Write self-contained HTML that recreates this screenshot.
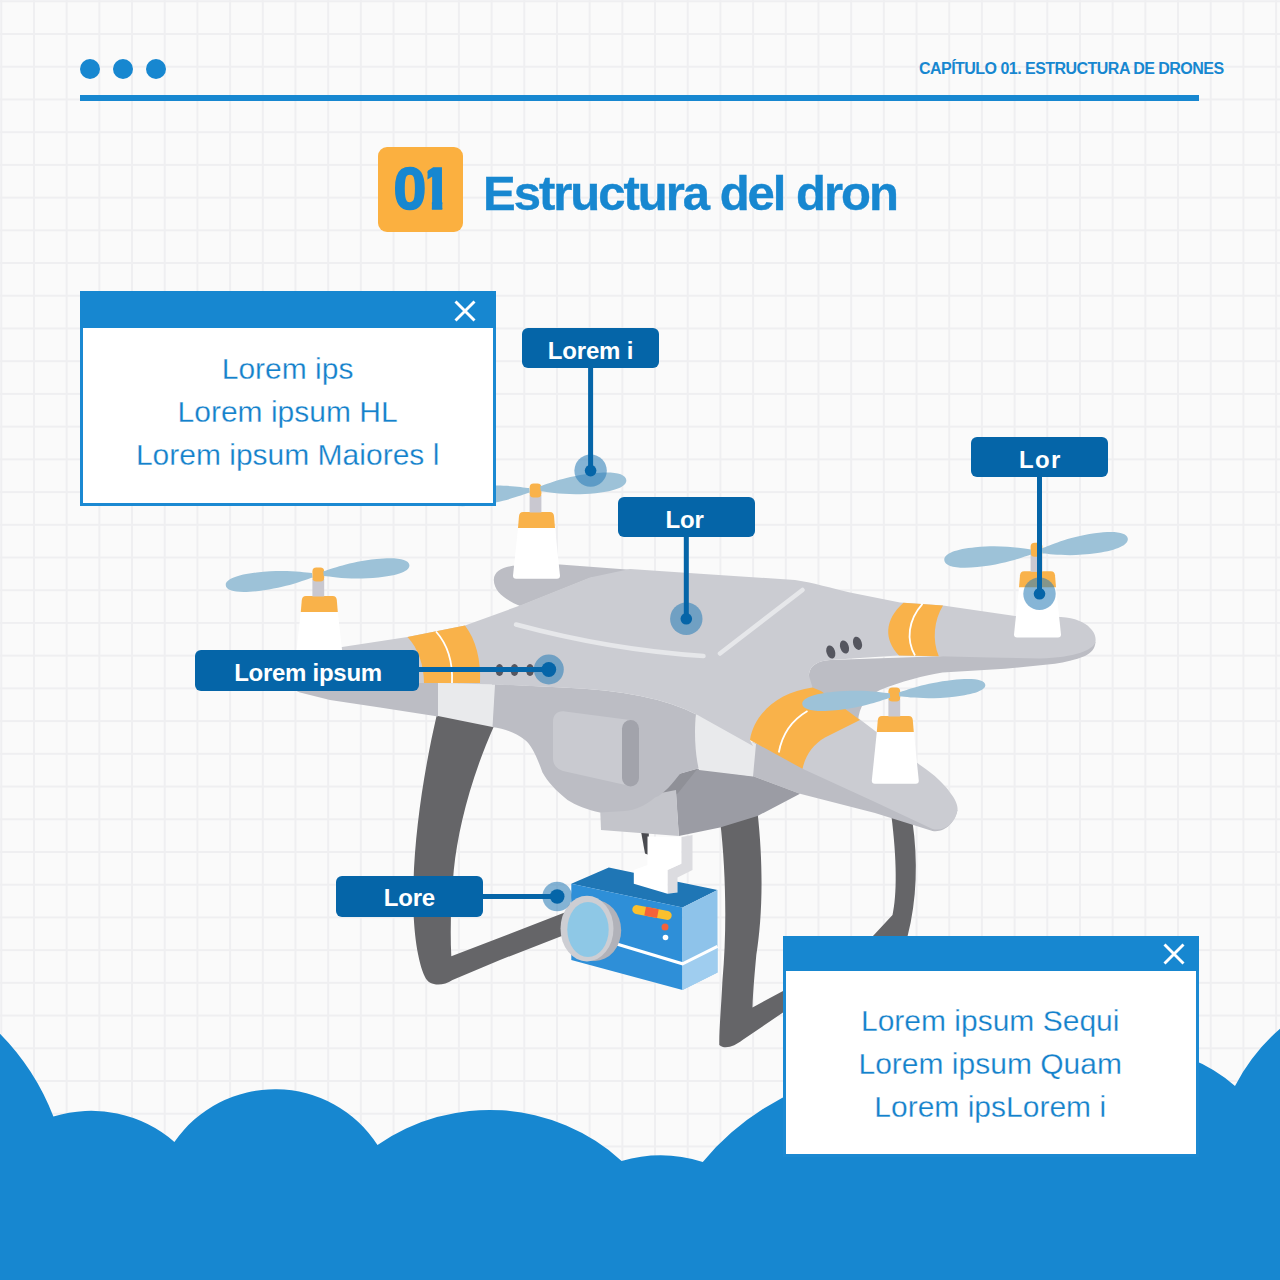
<!DOCTYPE html>
<html lang="es"><head><meta charset="utf-8"><title>Estructura del dron</title>
<style>
html,body{margin:0;padding:0}
body{width:1280px;height:1280px;overflow:hidden;position:relative;background-color:#fafafa;
 background-image:linear-gradient(to right,#efeff1 0,#efeff1 1.8px,transparent 1.8px),linear-gradient(to bottom,#efeff1 0,#efeff1 1.8px,transparent 1.8px);
 background-size:32.7px 32.73px;background-position:0.3px 0.3px;
 font-family:"Liberation Sans",sans-serif}
.abs{position:absolute}
.dots span{position:absolute;top:58.75px;width:20px;height:20px;border-radius:50%;background:#1787d0}
.rule{left:80px;top:95px;width:1118.5px;height:5.5px;background:#1787d0}
.chap{right:56.4px;top:59.5px;font-weight:bold;font-size:16px;color:#1787d0;white-space:nowrap;letter-spacing:-0.53px}
.num{left:378px;top:147px;width:85px;height:85px;border-radius:9px;background:#fbb040;color:#1787d0;font-weight:bold;font-size:59px;line-height:85px;text-align:center;letter-spacing:-3px;text-indent:-5px;-webkit-text-stroke:1.7px #1787d0}
.num span{position:absolute;top:0.4px;display:block;letter-spacing:0;text-indent:0}
.num .d1{clip-path:polygon(8.3px 0,23.6px 0,23.6px 54px,23px 54px,23px 100%,12.6px 100%,12.6px 54px,8.3px 54px)}
.title{left:483px;top:163px;font-weight:bold;font-size:49px;line-height:60px;color:#1787d0;white-space:nowrap;letter-spacing:-2px;-webkit-text-stroke:0.4px #1787d0}
.win{box-sizing:border-box;width:416px;border:3px solid #1b89d2;border-top:none;background:#fff;color:#1481cb;font-size:30px;line-height:43px;text-align:center;-webkit-text-stroke:0.28px #fff}
.win .bar{height:36.7px;background:#1787d0;margin:0 -3px;position:relative}
.win .bar svg{position:absolute;right:20.5px;top:8.6px}
.tag{height:39.8px;border-radius:6px;background:#0565a8;color:#fff;font-weight:bold;font-size:24px;line-height:45px;letter-spacing:-0.2px;text-align:center;white-space:nowrap}
</style></head>
<body>
<svg class="abs" style="left:0;top:0" width="1280" height="1280" viewBox="0 0 1280 1280">
<path d="M0,1033.75 A241.3,241.3 0 0 1 53.4,1116.6 A127,127 0 0 1 174.4,1141.9 A122.2,122.2 0 0 1 377.5,1145 A196.5,196.5 0 0 1 621.6,1160.9 A138.3,138.3 0 0 1 702.8,1161.9 A258.5,258.5 0 0 1 1000,1088 L1040,1085 A148,148 0 0 1 1235,1086 A194.8,194.8 0 0 1 1280,1028.75 L1280,1280 L0,1280 Z" fill="#1787d0"/>
<path d="M891.3,815 C897,860 897,895 892.5,915 L872.5,936.5 L907.5,936.5 C917,900 918,860 912.5,822 Z" fill="#656568"/>
<path d="M437,714 C424,770 415,830 413.5,882 C412,925 417,960 425,977 C429,986 442,987 452.5,980 L500,960 L572,932 L566,912 L451.3,956.3 C450,930 451,900 453.8,870 C458,830 470,780 494,726 Z" fill="#656568"/>
<path d="M720,820 C726,870 727,930 722.5,980 C721,1010 719,1030 719.3,1045 C725,1050 735,1046 742.5,1040 L783,1012.5 L783,991 L752.5,1007.5 C753,990 755,970 756.3,955 C762,920 764,870 757.5,812 Z" fill="#656568"/>
<path d="M493.8,580 C494,570 505,566 517.5,565.6 L560,564.4 L640,570.6 L590,578 L520,606 C506,600 494,592 493.8,580 Z" fill="#bcbdc4"/>
<path d="M808.8,675 C810,665 818,661 830,660 L938.8,656.3 L1005,652.5 L1055,647.5 L1095.5,642 C1095,649 1091,653 1085,656 C1075,660 1065,662 1055,663.8 L1005,668.8 L942.5,672.5 C925,675 900,682 880,690 C866,697 859,706 858,722 L812,690 C809,685 808,680 808.8,675 Z" fill="#bcbdc4"/>
<path d="M752.5,742 L752.5,776 L800,793.8 L875,813 L932.5,831 C945,833 955,822 957.5,810 L802.5,762 Z" fill="#bcbdc4"/>
<path d="M697.5,768.8 L752.5,776 L800,793.8 L757.5,816 L720,827.5 L678.8,836 L676,793.8 L660,792.5 L680,773.8 Z" fill="#9b9ca4"/>
<path d="M697.5,768.8 L680,773.8 L660,792.5 L677.5,793.8 Z" fill="#8f9097"/>
<path d="M600,805 L601,830 L678.8,836 L676,790 Z" fill="#c4c5cb"/>
<path d="M290,672 C290,684 293,690 300,692.5 L330,700 L380,707.5 L438,716.5 L438,670 Z" fill="#bcbdc4"/>
<path d="M492,684 L562.5,687.5 Q652,691 697.5,715 L700,768 L680,773.8 C668,790 660,796 655,797.5 C645,806 635,810 625,811 L600,812.5 C588,810 575,805 567.5,800 C555,790 548,782 542.5,772.5 C538,760 532,745 525,740 C515,732 505,729 492,727 Z" fill="#bcbdc4"/>
<path d="M565,711.5 L630,720 L630,786 L563,771 C557,769 553,765 553,758 L553,722 C553,714 558,710.5 565,711.5 Z" fill="#c9cad0"/>
<rect x="622" y="720" width="17" height="66.5" rx="8.5" fill="#a2a3ab"/>
<path d="M438,683 L495,684.5 L492.5,727 L438,716 Z" fill="#e9eaec"/>
<path d="M696,714 L756,744 L753,776.5 L699,770 C695,755 694,730 696,714 Z" fill="#e9eaec"/>
<path d="M300,662 L342,647 L407.5,637 L465,625.5 L520,605.5 L590,577.5 L630,569 L700,573.8 L795,580 C815,583 830,588 850,592.5 L900,602.5 L943,605.5 L1015,616 L1061,617 C1075,618 1085,622 1090,628 C1095,633 1096,637 1095.5,642 C1093,650 1075,657.5 1040,658.5 L990,657.5 L938.8,656.3 L897.5,655.5 L830,660 C818,661 810,665 808.8,675 L812.5,687.5 L750,740 L753,746 L697.5,715 Q652,691 562.5,687.5 L495,684.5 L438,683 L300,683 Z" fill="#cbccd2"/>
<path d="M858,718 L920,765 C935,775 945,785 950,792.5 C956,800 958,806 957.5,810 C956,822 945,832 932.5,829 L875,802 L802.5,768.8 L800,755 L820,735 Z" fill="#cbccd2"/>
<path d="M407.5,637 L465,625.5 C476,640 481,660 480,683 L424,683 C424,665 418,648 407.5,637 Z" fill="#f9b24a"/>
<path d="M436,631.5 C448,645 453,662 452,683" fill="none" stroke="#fff" stroke-width="1.8"/>
<path d="M903.5,602.8 L943,605.5 C934,620 932,640 938.8,656.3 L899,655.5 C884,640 884,620 903.5,602.8 Z" fill="#f9b24a"/>
<path d="M922.5,603.8 C908,620 906,640 915,655.5" fill="none" stroke="#fff" stroke-width="1.8"/>
<path d="M750,740 C754,714 778,692 812.5,687.5 L821,691 L860,720 L825,737.5 C812,745 805,757 802.5,768.8 Z" fill="#f9b24a"/>
<path d="M778.8,752.5 C782,735 792,720 807.5,711" fill="none" stroke="#fff" stroke-width="1.8"/>
<path d="M516,624.5 Q611,650 703.5,656" fill="none" stroke="#e6e7ea" stroke-width="4.5" stroke-linecap="round"/>
<path d="M720,653.5 L802.5,590" stroke="#e6e7ea" stroke-width="4.5" stroke-linecap="round"/>
<ellipse cx="830.8" cy="652" rx="4.3" ry="6.8" transform="rotate(-18 830.8 652)" fill="#55565f"/>
<ellipse cx="844.5" cy="647" rx="4.3" ry="6.8" transform="rotate(-18 844.5 647)" fill="#55565f"/>
<ellipse cx="857.5" cy="643.3" rx="4.3" ry="6.8" transform="rotate(-18 857.5 643.3)" fill="#55565f"/>
<ellipse cx="499.5" cy="670" rx="4" ry="6" fill="#55565f"/>
<ellipse cx="514.5" cy="670" rx="4" ry="6" fill="#55565f"/>
<ellipse cx="530" cy="670" rx="4" ry="6" fill="#55565f"/>
<path d="M641.3,833 L648.8,833.5 L648.8,855 L645,853.5 Z" fill="#4a4b50"/>
<path d="M681.3,837 L692.5,835 L692.5,870 L677.5,877.5 L677.5,892.5 L667.5,893.8 L667.5,870 L681.3,863.8 Z" fill="#dcdce0"/>
<path d="M647.5,836.5 L681.3,837 L681.3,863.8 L667.5,870 L667.5,893.8 L633.8,883.8 L633.8,870 L647.5,865 Z" fill="#fff"/>
<path d="M571.3,883.8 L608.8,867.5 L633.8,872.7 L633.8,883.8 L667.5,893.8 L677.5,892.5 L677.5,881.7 L717.5,890 L682.5,907.5 Z" fill="#1f76b5"/>
<path d="M571.3,883.8 L682.5,907.5 L682.5,990 L571.3,960 Z" fill="#2e8fd8"/>
<path d="M682.5,907.5 L717.5,890 L717.5,972.5 L682.5,990 Z" fill="#8ec3ea"/>
<path d="M682.5,965.3 L717.5,947.8 L717.5,972.5 L682.5,990 Z" fill="#9fcdef"/>
<path d="M615,943.5 L682.5,963.8 L717.5,946.3" fill="none" stroke="#fff" stroke-width="3"/>
<g transform="rotate(11 652 912.5)"><rect x="632" y="908" width="40" height="9" rx="4.5" fill="#fbc02d"/><rect x="645" y="908" width="13" height="9" fill="#f4623a"/></g>
<circle cx="665" cy="927" r="3.5" fill="#f4623a"/><circle cx="665.5" cy="937.5" r="2.8" fill="#fff"/>
<ellipse cx="594.7" cy="930.4" rx="26.5" ry="30.5" fill="#b1b2b9"/>
<ellipse cx="587" cy="928.6" rx="26.5" ry="32.8" fill="#cdced3"/>
<ellipse cx="588" cy="929.5" rx="20.7" ry="27.5" fill="#8ec8e6"/>
<path d="M518.0,528.0 L555.0,528.0 L560.0,575.8 Q560.0,578.8 557.0,578.8 L516.0,578.8 Q513.0,578.8 513.0,575.8 Z" fill="#fff"/><path d="M518.0,528.0 L519.0,516.0 Q519.5,512.0 523.0,512.0 L550.0,512.0 Q553.5,512.0 554.0,516.0 L555.0,528.0 Z" fill="#f9b24a"/><rect x="529.6" y="495.0" width="11.8" height="17.5" fill="#c9c8d0"/><rect x="529.6" y="483.5" width="11.8" height="14" rx="4" fill="#f9b24a"/>
<path d="M540.8,491.3 C549.5,492.1 567.3,496.1 595.6,493.2 C615.3,491.2 627.0,486.5 626.3,480.0 C625.6,473.5 613.3,471.3 593.5,473.3 C565.2,476.2 548.7,483.7 540.2,486.3 Z" fill="#9dc2d8" opacity="1"/>
<path d="M529.3,488.0 C520.5,487.3 502.9,483.8 474.6,486.8 C455.0,489.0 443.4,493.5 444.0,499.5 C444.6,505.5 457.0,507.5 476.6,505.3 C504.8,502.3 521.4,495.1 529.7,492.6 Z" fill="#9dc2d8" opacity="1"/>
<path d="M300.8,612.0 L337.8,612.0 L342.8,657.0 Q342.8,660.0 339.8,660.0 L298.8,660.0 Q295.8,660.0 295.8,657.0 Z" fill="#fff"/><path d="M300.8,612.0 L301.8,600.0 Q302.3,596.0 305.8,596.0 L332.8,596.0 Q336.3,596.0 336.8,600.0 L337.8,612.0 Z" fill="#f9b24a"/><rect x="312.4" y="579.0" width="11.8" height="17.5" fill="#c9c8d0"/><rect x="312.4" y="567.5" width="11.8" height="14" rx="4" fill="#f9b24a"/>
<path d="M323.7,575.9 C332.5,576.6 350.2,580.3 378.5,577.4 C398.3,575.5 410.0,571.0 409.4,565.0 C408.8,559.0 396.4,557.0 376.7,558.9 C348.3,561.8 331.7,568.9 323.3,571.3 Z" fill="#9dc2d8" opacity="1"/>
<path d="M311.9,572.9 C303.1,572.4 285.2,569.1 256.7,572.5 C236.8,574.8 225.1,579.5 225.8,585.5 C226.5,591.5 239.0,593.3 258.9,590.9 C287.4,587.5 304.0,580.1 312.5,577.5 Z" fill="#9dc2d8" opacity="1"/>
<path d="M1019.0,587.3 L1056.0,587.3 L1061.0,634.5 Q1061.0,637.5 1058.0,637.5 L1017.0,637.5 Q1014.0,637.5 1014.0,634.5 Z" fill="#fff"/><path d="M1019.0,587.3 L1020.0,575.3 Q1020.5,571.3 1024.0,571.3 L1051.0,571.3 Q1054.5,571.3 1055.0,575.3 L1056.0,587.3 Z" fill="#f9b24a"/><rect x="1030.6" y="554.3" width="11.8" height="17.5" fill="#c9c8d0"/><rect x="1030.6" y="542.8" width="11.8" height="14" rx="4" fill="#f9b24a"/>
<path d="M1042.4,553.5 C1051.2,553.9 1069.2,557.2 1097.5,553.1 C1117.2,550.2 1128.7,545.0 1127.8,538.6 C1126.9,532.2 1114.4,530.4 1094.6,533.3 C1066.3,537.4 1050.0,545.6 1041.6,548.5 Z" fill="#9dc2d8" opacity="1"/>
<path d="M1030.8,549.5 C1021.9,548.6 1004.0,544.5 975.4,547.2 C955.5,549.1 943.7,553.7 944.3,560.2 C944.9,566.7 957.4,569.0 977.3,567.1 C1005.9,564.4 1022.7,557.0 1031.2,554.5 Z" fill="#9dc2d8" opacity="1"/>
<path d="M876.8,732.0 L913.8,732.0 L918.8,780.8 Q918.8,783.8 915.8,783.8 L874.8,783.8 Q871.8,783.8 871.8,780.8 Z" fill="#fff"/><path d="M876.8,732.0 L877.8,720.0 Q878.3,716.0 881.8,716.0 L908.8,716.0 Q912.3,716.0 912.8,720.0 L913.8,732.0 Z" fill="#f9b24a"/><rect x="888.4" y="699.0" width="11.8" height="17.5" fill="#c9c8d0"/><rect x="888.4" y="687.5" width="11.8" height="14" rx="4" fill="#f9b24a"/>
<path d="M899.2,696.6 C908.0,697.0 925.8,699.9 954.3,696.7 C974.2,694.5 985.9,690.2 985.3,684.8 C984.7,679.4 972.3,677.8 952.4,680.0 C924.0,683.2 907.2,690.0 898.8,692.4 Z" fill="#9dc2d8" opacity="1"/>
<path d="M889.8,693.2 C880.8,692.5 862.8,688.9 833.8,691.8 C813.6,693.8 801.7,698.3 802.3,704.3 C802.9,710.3 815.5,712.3 835.7,710.3 C864.6,707.4 881.6,700.3 890.2,697.8 Z" fill="#9dc2d8" opacity="1"/>
<circle cx="590.6" cy="470.6" r="16.2" fill="#2f7fb8" opacity="0.58"/>
<circle cx="686.3" cy="618.8" r="16.2" fill="#2f7fb8" opacity="0.58"/>
<circle cx="1039.5" cy="593.8" r="16.2" fill="#2f7fb8" opacity="0.58"/>
<circle cx="548.8" cy="669.5" r="15" fill="#2f7fb8" opacity="0.58"/>
<circle cx="557.2" cy="896.5" r="14.8" fill="#2f7fb8" opacity="0.58"/>
<rect x="588.1" y="366" width="5" height="105" fill="#0565a8"/>
<circle cx="590.6" cy="470.6" r="5.8" fill="#0565a8"/>
<rect x="683.8" y="535" width="5" height="84" fill="#0565a8"/>
<circle cx="686.3" cy="618.8" r="5.8" fill="#0565a8"/>
<rect x="1037" y="474" width="5" height="120" fill="#0565a8"/>
<circle cx="1039.5" cy="593.8" r="5.8" fill="#0565a8"/>
<rect x="417" y="667" width="132" height="5" fill="#0565a8"/>
<circle cx="548.8" cy="669.5" r="7.4" fill="#0565a8"/>
<rect x="481" y="894" width="77" height="5" fill="#0565a8"/>
<circle cx="557.2" cy="896.5" r="7.3" fill="#0565a8"/>
</svg>
<div class="dots"><span style="left:79.8px"></span><span style="left:113px"></span><span style="left:146px"></span></div>
<div class="abs rule"></div>
<div class="abs chap">CAPÍTULO 01. ESTRUCTURA DE DRONES</div>
<div class="abs num"><span style="left:15.6px">0</span><span class="d1" style="left:41.3px">1</span></div>
<div class="abs title">Estructura del dron</div>

<div class="abs tag" style="left:522px;top:328px;width:137px">Lorem i</div>
<div class="abs tag" style="left:618px;top:497px;width:137px;text-indent:-4px">Lor</div>
<div class="abs tag" style="left:971px;top:437px;width:137px;letter-spacing:1.4px;text-indent:1.8px">Lor</div>
<div class="abs tag" style="left:195.3px;top:650px;width:224px;height:40.8px;letter-spacing:-0.28px;text-indent:1.5px">Lorem ipsum</div>
<div class="abs tag" style="left:336px;top:875.8px;width:146.8px;height:41px;line-height:44px">Lore</div>

<div class="abs win" style="left:80px;top:291px;height:215px">
 <div class="bar"><svg width="22" height="22" viewBox="0 0 22 22"><path d="M1.5,1.5 L20.5,20.5 M20.5,1.5 L1.5,20.5" stroke="#fff" stroke-width="2.9" fill="none"/></svg></div>
 <div style="padding-top:19.3px;position:relative;left:-0.4px">Lorem ips<br>Lorem ipsum HL<br>Lorem ipsum Maiores l</div>
</div>
<div class="abs win" style="left:783px;top:936px;height:220.5px">
 <div class="bar" style="height:34.5px"><svg style="right:14px;top:7.2px" width="22" height="22" viewBox="0 0 22 22"><path d="M1.5,1.5 L20.5,20.5 M20.5,1.5 L1.5,20.5" stroke="#fff" stroke-width="2.9" fill="none"/></svg></div>
 <div style="padding-top:28px;position:relative;left:-0.8px">Lorem ipsum Sequi<br>Lorem ipsum Quam<br>Lorem ipsLorem i</div>
</div>
</body></html>
